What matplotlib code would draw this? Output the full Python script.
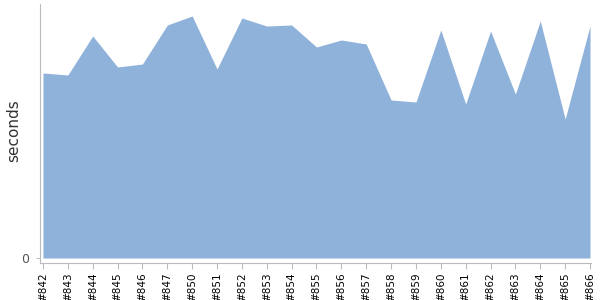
import matplotlib
matplotlib.use("Agg")
import matplotlib.pyplot as plt
import numpy as np

builds = ["#842", "#843", "#844", "#845", "#846", "#847", "#850", "#851",
          "#852", "#853", "#854", "#855", "#856", "#857", "#858", "#859",
          "#860", "#861", "#862", "#863", "#864", "#865", "#866"]
seconds = [185, 183, 222, 191, 194, 233, 242, 189, 240, 232, 233, 211,
           218, 214, 158, 156, 228, 154, 227, 164, 237, 139, 232]

fig = plt.figure(figsize=(6, 3), dpi=100)
ax = fig.add_axes([40 / 600, 37 / 300, 551 / 600, 259 / 300])

x = np.arange(len(builds))
ax.fill_between(x, 0, seconds, color="#8fb2da", linewidth=0)

ax.set_xlim(-0.12, len(builds) - 1 + 0.04)
ax.set_ylim(-5, 254)
ax.set_xticks(x)
ax.set_xticklabels(builds, rotation=90, fontsize=7.5, color="black")
ax.set_yticks([0])
ax.set_yticklabels(["0"], fontsize=9, color="#555555")
ax.tick_params(axis="x", length=4, color="#bbbbbb", pad=3)
ax.tick_params(axis="y", length=3, color="#bbbbbb", pad=5)

for side in ("top", "right"):
    ax.spines[side].set_visible(False)
for side in ("left", "bottom"):
    ax.spines[side].set_color("#bbbbbb")

ax.set_ylabel("seconds", fontsize=11, color="#333333", va="center")
ax.yaxis.set_label_coords(-0.047, 0.51)

fig.savefig("out.png", dpi=100)
